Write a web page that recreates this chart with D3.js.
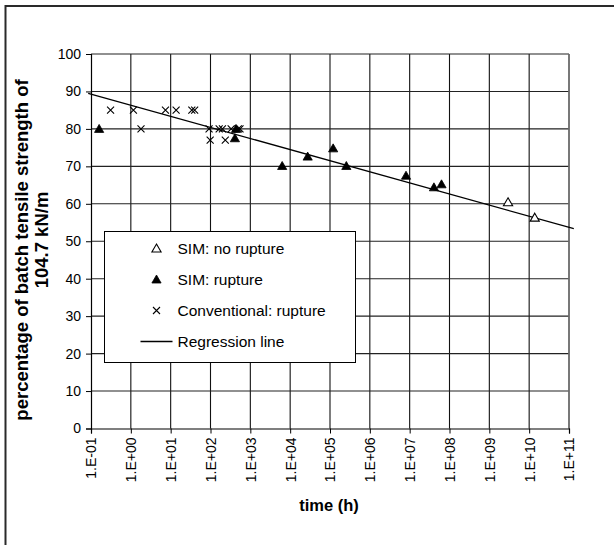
<!DOCTYPE html>
<html>
<head>
<meta charset="utf-8">
<script src="https://cdn.jsdelivr.net/npm/d3@7"></script>
<style>
  body { margin: 0; background: #fff; }
  text { font-family: "Liberation Sans", Arial, sans-serif; fill: #000; }
</style>
</head>
<body>
<div id="chart"></div>
<script>
var svgWidth = 614;
var svgHeight = 545;

// tick values of the log time axis (hours)
var xTicks = [1e-1, 1e0, 1e1, 1e2, 1e3, 1e4, 1e5, 1e6, 1e7, 1e8, 1e9, 1e10, 1e11];
var xTickLabels = ["1.E-01", "1.E+00", "1.E+01", "1.E+02", "1.E+03", "1.E+04", "1.E+05",
  "1.E+06", "1.E+07", "1.E+08", "1.E+09", "1.E+10", "1.E+11"];
var yTicks = [0, 10, 20, 30, 40, 50, 60, 70, 80, 90, 100];

// SIM: no rupture (open triangles)
var simNoRuptureTime = [2.95e9, 1.38e10];
var simNoRupturePct = [60.4, 56.3];

// SIM: rupture (filled triangles)
var simRuptureTime = [0.16, 410, 437, 6300, 27500, 120000, 257000, 8.1e6, 4.07e7, 6.3e7];
var simRupturePct = [80, 77.5, 80, 70.1, 72.6, 74.8, 70.1, 67.5, 64.4, 65.2];

// Conventional: rupture (crosses)
var convTime = [0.31, 1.16, 1.8, 7.4, 13.7, 34, 40, 92, 98, 165, 199, 235, 330, 500, 550];
var convPct = [85, 85, 80, 85, 85, 85, 85, 80, 77, 80, 80, 77, 80, 80, 80];

// regression line end points
var regTime = [0.085, 1.32e11];
var regPct = [89.5, 53.35];

var legendLabels = ["SIM: no rupture", "SIM: rupture", "Conventional: rupture", "Regression line"];

var margin = { top: 54, right: 45, bottom: 116.5, left: 91 };
var width = svgWidth - margin.left - margin.right;
var height = svgHeight - margin.top - margin.bottom;

var svg = d3.select("#chart")
  .append("svg")
  .attr("width", svgWidth)
  .attr("height", svgHeight);

// outer chart frame (runs off the right and bottom of the picture)
svg.append("rect")
  .attr("x", 5.5)
  .attr("y", 6)
  .attr("width", 640)
  .attr("height", 600)
  .attr("fill", "none")
  .attr("stroke", "#2a2a2a")
  .attr("stroke-width", 2);

var chartGroup = svg.append("g")
  .attr("transform", `translate(${margin.left}, ${margin.top})`);

var xScale = d3.scaleLog()
  .domain([1e-1, 1e11])
  .range([0, width]);

var yScale = d3.scaleLinear()
  .domain([0, 100])
  .range([height, 0]);

// grid
chartGroup.append("g")
  .selectAll("line")
  .data(xTicks.slice(1))
  .enter()
  .append("line")
  .attr("x1", d => xScale(d))
  .attr("x2", d => xScale(d))
  .attr("y1", 0)
  .attr("y2", height)
  .attr("stroke", "#111")
  .attr("stroke-width", 1.1);

chartGroup.append("g")
  .selectAll("line")
  .data(yTicks.slice(1))
  .enter()
  .append("line")
  .attr("x1", 0)
  .attr("x2", width)
  .attr("y1", d => yScale(d))
  .attr("y2", d => yScale(d))
  .attr("stroke", "#222")
  .attr("stroke-width", 1.1);

// right border of plot area
chartGroup.append("line")
  .attr("x1", width).attr("x2", width)
  .attr("y1", 0).attr("y2", height)
  .attr("stroke", "#777")
  .attr("stroke-width", 1.5);

// axes
var bottomAxis = d3.axisBottom(xScale)
  .tickValues(xTicks)
  .tickSize(5)
  .tickFormat((d, i) => xTickLabels[i]);

var leftAxis = d3.axisLeft(yScale)
  .tickValues(yTicks)
  .tickSize(5)
  .tickPadding(5);

var xAxisG = chartGroup.append("g")
  .attr("transform", `translate(0, ${height})`)
  .call(bottomAxis);

xAxisG.selectAll("text")
  .attr("transform", "rotate(-90)")
  .attr("text-anchor", "end")
  .attr("x", -9)
  .attr("y", 0)
  .attr("dy", "0.35em")
  .attr("font-size", 14);

var yAxisG = chartGroup.append("g")
  .call(leftAxis);

yAxisG.selectAll("text").attr("font-size", 14);

chartGroup.selectAll(".domain").attr("stroke", "#000").attr("stroke-width", 1.2);
chartGroup.selectAll(".tick line").attr("stroke", "#000");

// regression line
var line = d3.line()
  .x(d => xScale(d[0]))
  .y(d => yScale(d[1]));

chartGroup.append("path")
  .datum(d3.zip(regTime, regPct))
  .attr("d", line)
  .attr("fill", "none")
  .attr("stroke", "#000")
  .attr("stroke-width", 1.3);

// marker shapes
var triPath = "M0,-4.5L4.6,3.5L-4.6,3.5Z";
var crossPath = "M-3.5,-3.5L3.5,3.5M-3.5,3.5L3.5,-3.5";

chartGroup.selectAll(".conv")
  .data(d3.zip(convTime, convPct))
  .enter()
  .append("path")
  .attr("class", "conv")
  .attr("transform", d => `translate(${xScale(d[0])}, ${yScale(d[1])})`)
  .attr("d", crossPath)
  .attr("stroke", "#000")
  .attr("stroke-width", 1.1)
  .attr("fill", "none");

chartGroup.selectAll(".simR")
  .data(d3.zip(simRuptureTime, simRupturePct))
  .enter()
  .append("path")
  .attr("class", "simR")
  .attr("transform", d => `translate(${xScale(d[0])}, ${yScale(d[1])})`)
  .attr("d", triPath)
  .attr("fill", "#000")
  .attr("stroke", "#000")
  .attr("stroke-width", 0.8);

chartGroup.selectAll(".simN")
  .data(d3.zip(simNoRuptureTime, simNoRupturePct))
  .enter()
  .append("path")
  .attr("class", "simN")
  .attr("transform", d => `translate(${xScale(d[0])}, ${yScale(d[1])})`)
  .attr("d", triPath)
  .attr("fill", "#fff")
  .attr("stroke", "#000")
  .attr("stroke-width", 1.1);

// legend
var legend = svg.append("g")
  .attr("transform", "translate(104.5, 231.5)");

legend.append("rect")
  .attr("width", 251)
  .attr("height", 131)
  .attr("fill", "#fff")
  .attr("stroke", "#000")
  .attr("stroke-width", 1);

var rowY = d3.scalePoint()
  .domain(legendLabels)
  .range([17, 110]);

legend.append("path")
  .attr("transform", `translate(52, ${rowY(legendLabels[0])})`)
  .attr("d", triPath)
  .attr("fill", "#fff")
  .attr("stroke", "#000")
  .attr("stroke-width", 1.1);

legend.append("path")
  .attr("transform", `translate(52, ${rowY(legendLabels[1])})`)
  .attr("d", triPath)
  .attr("fill", "#000")
  .attr("stroke", "#000")
  .attr("stroke-width", 0.8);

legend.append("path")
  .attr("transform", `translate(52, ${rowY(legendLabels[2])})`)
  .attr("d", crossPath)
  .attr("stroke", "#000")
  .attr("stroke-width", 1.1)
  .attr("fill", "none");

legend.append("line")
  .attr("x1", 36)
  .attr("x2", 68)
  .attr("y1", rowY(legendLabels[3]))
  .attr("y2", rowY(legendLabels[3]))
  .attr("stroke", "#000")
  .attr("stroke-width", 1.3);

legend.selectAll("text.lbl")
  .data(legendLabels)
  .enter()
  .append("text")
  .attr("class", "lbl")
  .attr("x", 73)
  .attr("y", d => rowY(d))
  .attr("dy", "0.35em")
  .attr("font-size", 15.5)
  .text(d => d);

// axis titles
svg.append("text")
  .attr("transform", "translate(28, 250) rotate(-90)")
  .attr("text-anchor", "middle")
  .attr("font-size", 18.5)
  .attr("font-weight", "bold")
  .text("percentage of batch tensile strength of");

svg.append("text")
  .attr("transform", "translate(48, 240) rotate(-90)")
  .attr("text-anchor", "middle")
  .attr("font-size", 18.5)
  .attr("font-weight", "bold")
  .text("104.7 kN/m");

svg.append("text")
  .attr("x", 329)
  .attr("y", 511)
  .attr("text-anchor", "middle")
  .attr("font-size", 16.5)
  .attr("font-weight", "bold")
  .text("time (h)");
</script>
</body>
</html>
